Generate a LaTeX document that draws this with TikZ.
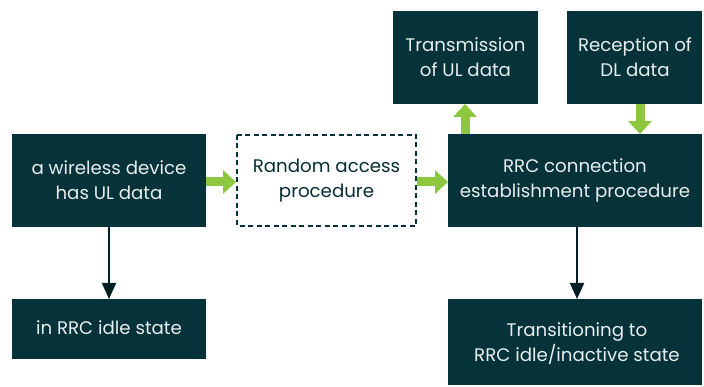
\documentclass[tikz,border=0pt]{standalone}
\usepackage{fontspec}
\setmainfont{Poppins}
\usetikzlibrary{arrows.meta}
\definecolor{teal}{HTML}{06333A}
\definecolor{lgreen}{HTML}{8DC63F}
\definecolor{boxtext}{HTML}{E8EEEE}
\begin{document}
\begin{tikzpicture}[x=1pt,y=-1pt,
  txt/.style={align=center,font=\fontsize{18.2}{25}\selectfont},
  darkbox/.style={fill=teal},
  lighttxt/.style={txt,text=boxtext},
  dashbox/.style={draw=teal,line width=2.3pt,dash pattern=on 5pt off 3.5pt},
  garrow/.style={draw=lgreen,line width=9pt,-{Triangle[length=13pt,width=23pt]}},
  karrow/.style={draw=teal!60!black,line width=2pt,-{Triangle[length=16pt,width=14pt]}}]
\useasboundingbox (0,0) rectangle (704,387);
\path[darkbox] (12,134) rectangle (206,227);
\node[lighttxt] (a) at (109,180.5) {a wireless device\\has UL data};
\coordinate (aR) at (206,182);
\coordinate (aB) at (109,227);
\path[darkbox] (12,299) rectangle (206,359);
\node[lighttxt] (f) at (109,328) {in RRC idle state};
\coordinate (fT) at (109,299);
\draw[dashbox] (237,135) rectangle (416,226);
\node[txt,text=teal!90!black] (b) at (326.5,180.5) {Random access\\procedure};
\coordinate (bL) at (236,182);
\coordinate (bR) at (417,182);
\path[darkbox] (448,134) rectangle (702,227);
\node[lighttxt] (c) at (575,180.5) {RRC connection\\establishment procedure};
\coordinate (cL) at (448,182);
\coordinate (cTl) at (465,134);
\coordinate (cTr) at (640,134);
\coordinate (cB) at (577,227);
\path[darkbox] (393,11) rectangle (538,104);
\node[lighttxt] (d) at (465.5,57) {Transmission\\of UL data};
\coordinate (dB) at (465,104);
\path[darkbox] (567,11) rectangle (702,104);
\node[lighttxt] (e) at (635,57) {Reception of\\DL data};
\coordinate (eB) at (640,104);
\path[darkbox] (448,299) rectangle (702,385);
\node[lighttxt] (g) at (577,344) {Transitioning to\\RRC idle/inactive state};
\coordinate (gT) at (577,299);
\draw[garrow] (aR) -- (bL);
\draw[garrow] (bR) -- (cL);
\draw[garrow] (cTl) -- (dB);
\draw[garrow] (eB) -- (cTr);
\draw[karrow] (aB) -- (fT);
\draw[karrow] (cB) -- (gT);
\end{tikzpicture}
\end{document}
